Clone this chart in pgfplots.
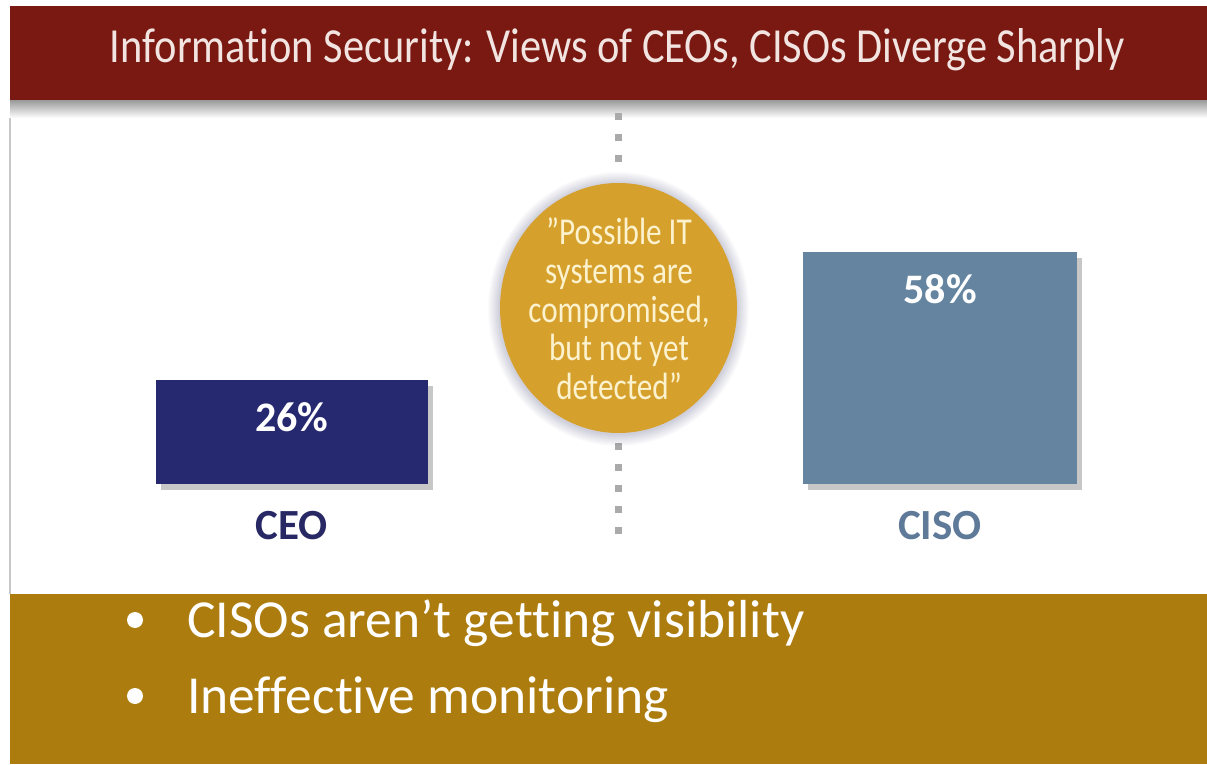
\documentclass[border=0pt]{standalone}
\usepackage{pgfplots}
\pgfplotsset{compat=1.18}
\usepackage{fontspec}
\setmainfont{Carlito}[Ligatures=NoCommon]
\usetikzlibrary{shadows}
\definecolor{titlebar}{RGB}{122,24,18}
\definecolor{titletext}{RGB}{242,228,224}
\definecolor{band}{RGB}{173,124,14}
\definecolor{ceobar}{RGB}{38,40,112}
\definecolor{cisobar}{RGB}{100,132,160}
\definecolor{ceolab}{RGB}{40,40,100}
\definecolor{cisolab}{RGB}{95,122,152}
\definecolor{bubble}{RGB}{214,160,45}
\definecolor{bubbletext}{RGB}{252,242,205}
\definecolor{dotgray}{RGB}{170,170,170}
\begin{document}
\begin{tikzpicture}[x=1pt,y=1pt]
\path[use as bounding box] (0,0) rectangle (1207,764);
\fill[white] (0,0) rectangle (1207,764);
% title bar
\shade[top color=black!40, bottom color=white] (10,664) rectangle (1207,646);
\fill[titlebar] (10,664) rectangle (1207,758);
\node[anchor=base, text=titletext, inner sep=0] at (617.5,701)
  {\resizebox{1015pt}{\height}{\fontsize{49}{49}\selectfont Information Security: Views of CEOs, CISOs Diverge Sharply}};
% left line
\draw[black!22, line width=1.5] (10,170) -- (10,646);
% dotted divider
\foreach \yy in {647,626,605,318,297,276,255,234}
  \fill[dotgray] (614.5,\yy-3.5) rectangle (621.5,\yy+3.5);
% bubble
\foreach \k in {1,...,12}
  \fill[black!70!blue!80, opacity=0.02] (618.5,455) ellipse ({118.5+\k} and {125+\k});
\fill[bubble] (618.5,456) ellipse (118.5 and 125);
\begin{scope}[every node/.style={anchor=base, inner sep=0, text=bubbletext}]
\node at (619,519) {\scalebox{0.82}[1]{\fontsize{38}{38}\selectfont ”Possible IT}};
\node at (619,480) {\scalebox{0.82}[1]{\fontsize{38}{38}\selectfont systems are}};
\node at (619,441) {\scalebox{0.82}[1]{\fontsize{38}{38}\selectfont compromised,}};
\node at (619,403) {\scalebox{0.82}[1]{\fontsize{38}{38}\selectfont but not yet}};
\node at (619,364) {\scalebox{0.82}[1]{\fontsize{38}{38}\selectfont detected”}};
\end{scope}
% bottom band
\fill[band] (10,0) rectangle (1207,170);
\fill[white] (135,144) circle (8);
\fill[white] (135,68) circle (8);
\node[anchor=base west, inner sep=0, text=white, font=\fontsize{53.5}{53.5}\selectfont] at (187,127) {CISOs aren’t getting visibility};
\node[anchor=base west, inner sep=0, text=white, font=\fontsize{53.5}{53.5}\selectfont] at (187,51) {Ineffective monitoring};
% chart
\begin{axis}[
  at={(0,0)}, anchor=south west,
  width=1207pt, height=764pt, scale only axis,
  xmin=0, xmax=1207, ymin=-70, ymax=121,
  axis x line=middle, axis y line=none,
  axis line style={draw=none},
  ytick=\empty,
  xtick={292,940},
  xticklabels={\textcolor{ceolab}{CEO},\textcolor{cisolab}{CISO}},
  major tick length=0pt,
  xticklabel style={anchor=base, yshift=-56pt, inner sep=0pt, font=\fontsize{43}{43}\selectfont\bfseries},
  clip=false,
  /pgf/number format/assume math mode=true,
  nodes near coords={\pgfmathprintnumber{\pgfplotspointmeta}\%},
  every node near coord/.append style={anchor=base, yshift=-52pt, text=white, inner sep=0pt, font=\fontsize{42}{42}\selectfont\bfseries},
]
\addplot[ybar, bar width=272, bar shift=0pt, fill=ceobar, draw=none,
  drop shadow={shadow xshift=5pt, shadow yshift=-6pt, fill=black, opacity=0.22}]
  coordinates {(292,26)};
\addplot[ybar, bar width=274, bar shift=0pt, fill=cisobar, draw=none,
  drop shadow={shadow xshift=5pt, shadow yshift=-6pt, fill=black, opacity=0.22}]
  coordinates {(940,58)};
\end{axis}
\end{tikzpicture}
\end{document}
